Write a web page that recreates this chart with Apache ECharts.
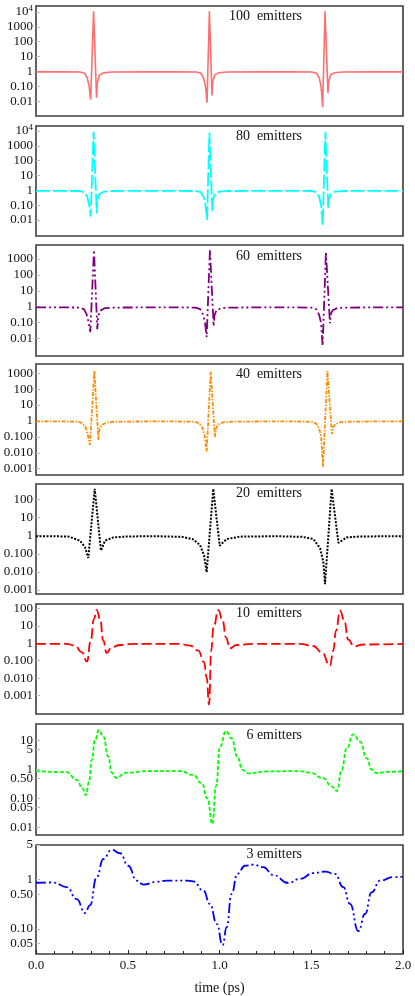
<!DOCTYPE html>
<html><head><meta charset="utf-8">
<script src="https://cdn.jsdelivr.net/npm/echarts@6/dist/echarts.min.js"></script>
<style>html,body{margin:0;padding:0;background:#fff}#c{width:415px;height:996px}</style>
</head><body><div id="c"></div>
<script>
// ---------- data ----------
const panelNames = ['100  emitters', '80  emitters', '60  emitters', '40  emitters', '20  emitters', '10  emitters', '6 emitters', '3 emitters'];
const xTickValues = [0, 0.5, 1.0, 1.5, 2.0];

const t100 = [0, 0.15, 0.24, 0.265, 0.28, 0.29, 0.298, 0.314, 0.33, 0.334, 0.345, 0.367, 0.41, 0.6, 0.75, 0.874, 0.899, 0.914, 0.924, 0.932, 0.945, 0.959, 0.963, 0.974, 0.996, 1.04, 1.25, 1.4, 1.504, 1.529, 1.544, 1.554, 1.562, 1.575, 1.591, 1.595, 1.606, 1.628, 1.67, 1.85, 2.0];
const v100 = [0.93, 0.93, 0.9, 0.75, 0.34, 0.09, 0.013, 11000, 0.017, 0.16, 0.54, 0.8, 0.9, 0.93, 0.93, 0.9, 0.75, 0.34, 0.09, 0.0077, 11000, 0.024, 0.2, 0.58, 0.82, 0.9, 0.93, 0.93, 0.9, 0.75, 0.34, 0.09, 0.0039, 11000, 0.036, 0.22, 0.6, 0.82, 0.9, 0.93, 0.93];

const t80 = [0, 0.15, 0.24, 0.265, 0.28, 0.29, 0.298, 0.314, 0.331, 0.335, 0.346, 0.368, 0.41, 0.6, 0.75, 0.874, 0.899, 0.914, 0.924, 0.932, 0.945, 0.961, 0.965, 0.976, 0.998, 1.04, 1.25, 1.4, 1.504, 1.529, 1.544, 1.554, 1.562, 1.577, 1.593, 1.597, 1.608, 1.63, 1.67, 1.85, 2.0];
const v80 = [0.93, 0.93, 0.9, 0.75, 0.34, 0.1, 0.017, 9000, 0.028, 0.2, 0.56, 0.8, 0.9, 0.93, 0.93, 0.9, 0.75, 0.34, 0.1, 0.01, 8000, 0.04, 0.25, 0.6, 0.82, 0.9, 0.93, 0.93, 0.9, 0.75, 0.34, 0.09, 0.0044, 9000, 0.055, 0.28, 0.62, 0.82, 0.9, 0.93, 0.93];

const t60 = [0, 0.15, 0.236, 0.261, 0.276, 0.287, 0.296, 0.316, 0.334, 0.339, 0.349, 0.374, 0.414, 0.6, 0.75, 0.87, 0.895, 0.91, 0.921, 0.930, 0.948, 0.968, 0.973, 0.983, 1.008, 1.048, 1.25, 1.4, 1.502, 1.527, 1.542, 1.553, 1.562, 1.580, 1.602, 1.607, 1.617, 1.642, 1.682, 1.85, 2.0];
const v60 = [0.9, 0.9, 0.88, 0.7, 0.33, 0.1, 0.025, 3700, 0.038, 0.25, 0.55, 0.8, 0.88, 0.9, 0.9, 0.88, 0.7, 0.33, 0.1, 0.012, 3700, 0.06, 0.3, 0.58, 0.8, 0.88, 0.9, 0.9, 0.88, 0.7, 0.33, 0.1, 0.0034, 2600, 0.09, 0.35, 0.6, 0.82, 0.88, 0.9, 0.9];

const t40 = [0, 0.15, 0.229, 0.254, 0.272, 0.284, 0.294, 0.318, 0.340, 0.346, 0.358, 0.385, 0.43, 0.6, 0.75, 0.865, 0.89, 0.908, 0.92, 0.930, 0.952, 0.975, 0.981, 0.993, 1.02, 1.065, 1.25, 1.4, 1.499, 1.524, 1.542, 1.554, 1.564, 1.588, 1.613, 1.619, 1.631, 1.658, 1.703, 1.85, 2.0];
const v40 = [0.93, 0.93, 0.9, 0.72, 0.36, 0.11, 0.031, 1400, 0.064, 0.3, 0.56, 0.8, 0.9, 0.93, 0.93, 0.9, 0.72, 0.36, 0.1, 0.012, 1250, 0.1, 0.35, 0.6, 0.82, 0.9, 0.93, 0.93, 0.9, 0.72, 0.36, 0.1, 0.0013, 1400, 0.15, 0.4, 0.62, 0.83, 0.9, 0.93, 0.93];

const t20 = [0, 0.1, 0.18, 0.24, 0.267, 0.285, 0.320, 0.354, 0.376, 0.421, 0.494, 0.65, 0.8, 0.857, 0.894, 0.916, 0.930, 0.966, 1.001, 1.039, 1.112, 1.3, 1.45, 1.511, 1.548, 1.566, 1.575, 1.611, 1.648, 1.693, 1.766, 2.0];
const v20 = [0.93, 0.93, 0.88, 0.53, 0.23, 0.059, 380, 0.15, 0.53, 0.8, 0.9, 0.93, 0.85, 0.62, 0.3, 0.08, 0.0095, 380, 0.28, 0.65, 0.88, 0.93, 0.86, 0.66, 0.2, 0.035, 0.0021, 380, 0.4, 0.8, 0.9, 0.93];

const t10 = [0, 0.167, 0.213, 0.249, 0.278, 0.298, 0.316, 0.331, 0.349, 0.367, 0.385, 0.412, 0.458, 0.53, 0.785, 0.839, 0.885, 0.916, 0.930, 0.943, 0.955, 0.967, 0.994, 1.017, 1.035, 1.057, 1.094, 1.184, 1.439, 1.511, 1.557, 1.602, 1.620, 1.635, 1.657, 1.679, 1.702, 1.733, 1.784, 2.0];
const v10 = [0.92, 0.92, 0.74, 0.31, 0.09, 1.4, 25, 80, 25, 1.4, 0.28, 0.59, 0.8, 0.92, 0.92, 0.74, 0.38, 0.082, 0.011, 0.00031, 0.4, 8, 80, 20, 2.2, 0.52, 0.8, 0.92, 0.92, 0.7, 0.31, 0.053, 0.38, 5.3, 75, 22, 1.6, 0.67, 0.85, 0.92];

const t6 = [0, 0.167, 0.222, 0.254, 0.272, 0.289, 0.303, 0.322, 0.343, 0.367, 0.394, 0.412, 0.434, 0.494, 0.621, 0.785, 0.857, 0.903, 0.934, 0.961, 0.981, 1.003, 1.035, 1.066, 1.097, 1.126, 1.157, 1.257, 1.439, 1.493, 1.566, 1.611, 1.639, 1.666, 1.693, 1.729, 1.766, 1.802, 1.829, 1.853, 1.929, 2.0];
const v6 = [0.89, 0.81, 0.44, 0.22, 0.13, 0.38, 2.1, 10.6, 23.5, 13.8, 2.8, 0.8, 0.52, 0.78, 0.89, 0.89, 0.65, 0.34, 0.1, 0.013, 0.26, 6.2, 21.7, 12, 2.8, 0.98, 0.74, 0.86, 0.89, 0.78, 0.5, 0.26, 0.18, 0.97, 5.5, 16.7, 9.3, 2.5, 1.0, 0.76, 0.84, 0.88];

const t3 = [0, 0.094, 0.167, 0.222, 0.267, 0.294, 0.331, 0.367, 0.412, 0.458, 0.503, 0.549, 0.585, 0.658, 0.712, 0.821, 0.857, 0.912, 0.948, 0.985, 1.017, 1.039, 1.066, 1.097, 1.139, 1.184, 1.239, 1.293, 1.375, 1.439, 1.511, 1.575, 1.629, 1.675, 1.711, 1.757, 1.793, 1.829, 1.875, 1.947, 2.0];
const v3 = [0.86, 0.87, 0.7, 0.4, 0.21, 0.3, 1.12, 2.6, 4.0, 3.4, 1.9, 0.95, 0.79, 0.9, 0.95, 0.95, 0.92, 0.6, 0.32, 0.126, 0.047, 0.108, 0.51, 1.3, 1.9, 2.0, 1.78, 1.23, 0.85, 1.03, 1.35, 1.45, 1.3, 0.7, 0.32, 0.09, 0.2, 0.55, 0.95, 1.12, 1.13];

// y tick values and their printed labels
const yTicksA = [0.01, 0.1, 1, 10, 100, 1000, 10000];
const yLabelsA = ['0.01', '0.10', '1', '10', '100', '1000', '10^4'];
const yTicks60 = [0.01, 0.1, 1, 10, 100, 1000];
const yLabels60 = ['0.01', '0.10', '1', '10', '100', '1000'];
const yTicks40 = [0.001, 0.01, 0.1, 1, 10, 100, 1000];
const yLabels40 = ['0.001', '0.010', '0.100', '1', '10', '100', '1000'];
const yTicksB = [0.001, 0.01, 0.1, 1, 10, 100];
const yLabelsB = ['0.001', '0.010', '0.100', '1', '10', '100'];
const yTicks6 = [0.01, 0.05, 0.1, 0.5, 1, 5, 10];
const yLabels6 = ['0.01', '0.05', '0.10', '0.50', '1', '5', '10'];
const yTicks3 = [0.05, 0.1, 0.5, 1, 5];
const yLabels3 = ['0.05', '0.10', '0.50', '1', '5'];

// ---------- layout / style ----------
const FONT = '"Liberation Serif", "DejaVu Serif", serif';
const panels = [
  {t: t100, v: v100, ticks: yTicksA, labels: yLabelsA, top: 6, h: 110, min: 1e-3, max: 2.5e4, color: '#ff6e6e', dash: 'solid', w: 1.6, smooth: false, ty: 16},
  {t: t80, v: v80, ticks: yTicksA, labels: yLabelsA, top: 126, h: 110, min: 8.3e-4, max: 2.2e4, color: '#00ffff', dash: [14, 3], w: 1.8, smooth: false, ty: 136},
  {t: t60, v: v60, ticks: yTicks60, labels: yLabels60, top: 245, h: 111, min: 7.9e-4, max: 7.6e3, color: '#800080', dash: [10, 3, 2, 3, 2, 3], w: 1.8, smooth: false, ty: 256},
  {t: t40, v: v40, ticks: yTicks40, labels: yLabels40, top: 364, h: 111, min: 4e-4, max: 3.8e3, color: '#ff8c00', dash: [4, 1.5, 1.5, 1.5], w: 1.8, smooth: false, ty: 374},
  {t: t20, v: v20, ticks: yTicksB, labels: yLabelsB, top: 484, h: 110, min: 6e-4, max: 710, color: '#000000', dash: [2, 1.5], w: 2, smooth: false, ty: 493},
  {t: t10, v: v10, ticks: yTicksB, labels: yLabelsB, top: 604, h: 110, min: 8.9e-5, max: 178, color: '#ff0000', dash: [10, 4], w: 1.8, smooth: 0.5, ty: 613},
  {t: t6, v: v6, ticks: yTicks6, labels: yLabels6, top: 724, h: 111, min: 5.4e-3, max: 38, color: '#00ff00', dash: [4, 2], w: 1.8, smooth: 0.5, ty: 735},
  {t: t3, v: v3, ticks: yTicks3, labels: yLabels3, top: 845, h: 110, min: 0.031, max: 5, color: '#0000ff', dash: [10, 3, 2, 3, 2, 3], w: 1.8, smooth: 0.5, ty: 854}
];

function makeYAxis(p, i, tickSet) {
  const ticks = p.ticks, labels = p.labels;
  return {
    type: 'log', logBase: 10, gridIndex: i, min: p.min, max: p.max, position: 'left',
    axisLine: {show: false},
    axisTick: {show: true, inside: true, length: 4, lineStyle: {color: '#bdbdbd'}, customValues: tickSet},
    splitLine: {show: false},
    axisLabel: {
      fontFamily: FONT, fontSize: 13, color: '#111', margin: 3, customValues: tickSet,
      showMinLabel: true, showMaxLabel: true, hideOverlap: false,
      formatter: val => {
        const k = ticks.findIndex(x => Math.abs(Math.log10(x) - Math.log10(val)) < 1e-6);
        if (k < 0) return '';
        const s = labels[k];
        if (s.indexOf('^') >= 0) { const pr = s.split('^'); return '{b|' + pr[0] + '}{s|' + pr[1] + '}'; }
        return s;
      },
      rich: {
        b: {fontFamily: FONT, fontSize: 13, color: '#111'},
        s: {fontFamily: FONT, fontSize: 9, color: '#111', verticalAlign: 'top', padding: [0, 0, 7, 0]}
      }
    }
  };
}

const grids = [], xAxes = [], yAxes = [], series = [], graphics = [];
panels.forEach((p, i) => {
  const last = i === panels.length - 1;
  grids.push({left: 36, right: 12, top: p.top, height: p.h, show: true, borderColor: '#3c3c3c', borderWidth: 1.6, backgroundColor: 'transparent'});
  xAxes.push({
    type: 'value', gridIndex: i, min: 0, max: 2, interval: 0.5,
    axisLine: {show: false},
    axisTick: {show: last, inside: true, length: 4, lineStyle: {color: '#222'}},
    minorTick: {show: last, splitNumber: 5, length: 3, lineStyle: {color: '#222'}},
    splitLine: {show: false},
    axisLabel: {show: last, fontFamily: FONT, fontSize: 13, color: '#111', margin: 5, formatter: v => v.toFixed(1)},
    name: last ? 'time (ps)' : '', nameLocation: 'middle', nameGap: 27,
    nameTextStyle: {fontFamily: FONT, fontSize: 14, color: '#111'}
  });
  // split ticks into two interleaved sets on two co-located axes so overlapping labels all stay visible
  const setA = p.ticks.filter((_, k) => k % 2 === 0);
  const setB = p.ticks.filter((_, k) => k % 2 === 1);
  const yi = yAxes.length;
  yAxes.push(makeYAxis(p, i, setA));
  yAxes.push(makeYAxis(p, i, setB));
  series.push({
    type: 'line', xAxisIndex: i, yAxisIndex: yi,
    data: p.t.map((x, k) => [x, p.v[k]]),
    showSymbol: false, symbol: 'none', smooth: p.smooth, smoothMonotone: p.smooth ? 'x' : undefined,
    clip: true, animation: false,
    lineStyle: {color: p.color, width: p.w, type: p.dash}
  });
  graphics.push({type: 'text', x: 302, y: p.ty, style: {text: panelNames[i], align: 'right', verticalAlign: 'middle', font: '14px ' + FONT, fill: '#111'}});
});

const chart = echarts.init(document.getElementById('c'), null, {renderer: 'canvas'});
chart.setOption({
  animation: false,
  backgroundColor: '#ffffff',
  grid: grids, xAxis: xAxes, yAxis: yAxes, series: series, graphic: graphics
});
</script></body></html>
